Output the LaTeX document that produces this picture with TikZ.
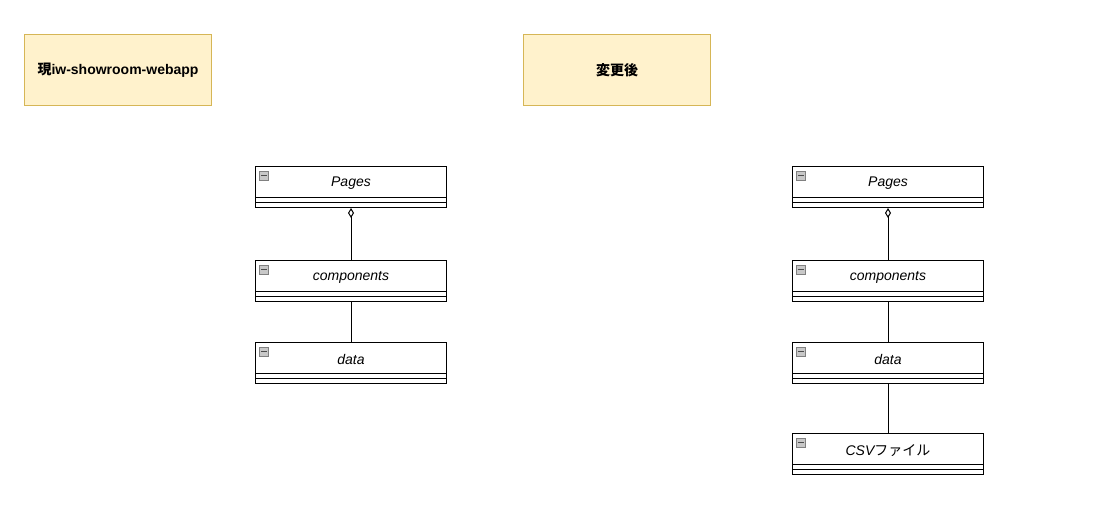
\documentclass[tikz,border=0pt]{standalone}
\usepackage{fontspec}
\setmainfont{Liberation Sans}
\newfontfamily\cjk{Noto Sans CJK JP}
\usetikzlibrary{arrows.meta,calc}
\definecolor{noteFill}{HTML}{FFF2CC}
\definecolor{noteDraw}{HTML}{D6B656}
\definecolor{iconFill}{HTML}{C8C8C8}
\definecolor{iconDraw}{HTML}{808080}
\tikzset{
  notebox/.style={draw=noteDraw,fill=noteFill,line width=1pt,minimum width=187pt,minimum height=71pt,inner sep=0pt,anchor=north west,font=\bfseries\fontsize{14}{16}\selectfont},
  classbox/.style={draw=black,fill=white,line width=1pt,minimum width=191pt,minimum height=41pt,inner sep=0pt,anchor=north west},
  conn/.style={draw=black,line width=1pt},
}
\newcommand{\umlcls}[4]{%
  \node[classbox] (#1) at (#2,#3) {};
  \draw[line width=1pt] ($(#1.north west)+(0,31)$) -- ($(#1.north east)+(0,31)$);
  \draw[line width=1pt] ($(#1.north west)+(0,36)$) -- ($(#1.north east)+(0,36)$);
  \node[font=\itshape\fontsize{14}{16}\selectfont] (#1-label) at ($(#1.north)+(0,17.5)$) {#4};
  \node[draw=iconDraw,fill=iconFill,minimum size=9pt,inner sep=0pt,line width=0.6pt] (#1-icon) at ($(#1.north west)+(9,9.5)$) {};
  \draw[line width=1pt,black!70] ($(#1-icon.west)+(1.8,0)$) -- ($(#1-icon.east)+(-1.8,0)$);
}
\begin{document}
\begin{tikzpicture}[x=1pt,y=-1pt]
\useasboundingbox (0,0) rectangle (1108,504);
\node[notebox] (cur) at (24,34) {};
\node[font=\bfseries\fontsize{14}{16}\selectfont] (curlabel) at (cur.center) {{\cjk\bfseries 現}iw-showroom-webapp};
\node[notebox] (after) at (523,34) {\cjk\bfseries 変更後};

\umlcls{lpages}{255}{166}{Pages}
\umlcls{lcomp}{255}{260}{components}
\umlcls{ldata}{255}{342}{data}

\umlcls{rpages}{792}{166}{Pages}
\umlcls{rcomp}{792}{260}{components}
\umlcls{rdata}{792}{342}{data}
\umlcls{rcsv}{792}{433}{CSV{\cjk\itshape ファイル}}

\draw[conn,{Diamond[open,length=10pt,width=6pt]}-] (lpages.south) -- (lcomp.north);
\draw[conn] (lcomp.south) -- (ldata.north);
\draw[conn,{Diamond[open,length=10pt,width=6pt]}-] (rpages.south) -- (rcomp.north);
\draw[conn] (rcomp.south) -- (rdata.north);
\draw[conn] (rdata.south) -- (rcsv.north);
\end{tikzpicture}
\end{document}
